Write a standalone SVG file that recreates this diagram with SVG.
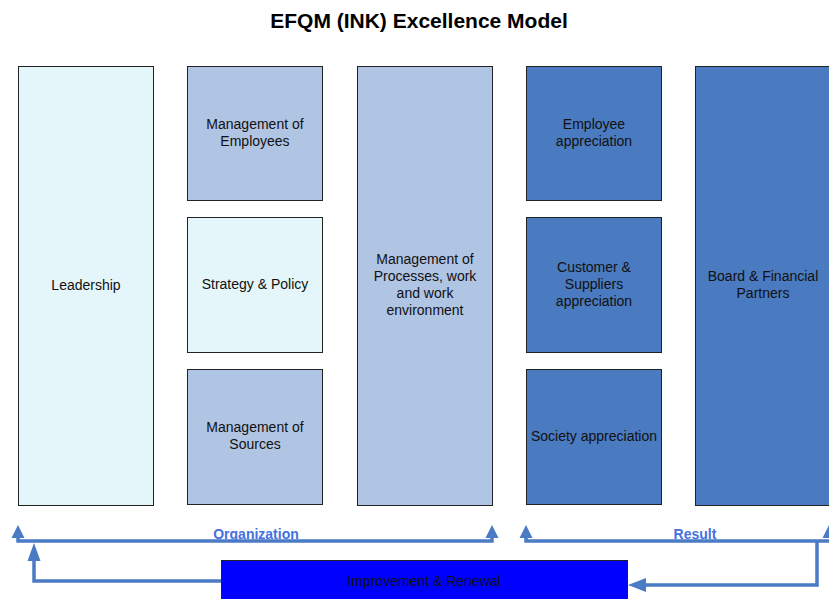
<svg xmlns="http://www.w3.org/2000/svg" width="829" height="599" viewBox="0 0 829 599">
  <defs>
    <style>
      .box { stroke: #222; stroke-width: 1; }
      .pale { fill: #E4F6F9; }
      .mid { fill: #B0C4E4; }
      .dark { fill: #4A7ABF; }
      .blue { fill: #0000FF; }
      .lbl { font-family: "Liberation Sans", Arial, sans-serif; font-size: 14px; fill: #111; text-anchor: middle; }
      .title { font-family: "Liberation Sans", Arial, sans-serif; font-size: 21px; font-weight: bold; fill: #000; text-anchor: middle; }
      .group { font-family: "Liberation Sans", Arial, sans-serif; font-size: 14px; font-weight: bold; fill: #4470E0; text-anchor: middle; }
      .conn { fill: none; stroke: #4A7BC4; stroke-width: 3.5; }
      .head { fill: #4A7BC4; }
    </style>
  </defs>

  <text class="title" x="419" y="28">EFQM (INK) Excellence Model</text>

  <g id="leadership">
    <rect class="box pale" x="18.5" y="66.5" width="135" height="439"/>
    <text class="lbl" x="86" y="290">Leadership</text>
  </g>
  <g id="employees">
    <rect class="box mid" x="187.5" y="66.5" width="135" height="134"/>
    <text class="lbl" x="255" y="129">Management of</text>
    <text class="lbl" x="255" y="146">Employees</text>
  </g>
  <g id="strategy">
    <rect class="box pale" x="187.5" y="217.5" width="135" height="135"/>
    <text class="lbl" x="255" y="289">Strategy &amp; Policy</text>
  </g>
  <g id="sources">
    <rect class="box mid" x="187.5" y="369.5" width="135" height="135"/>
    <text class="lbl" x="255" y="432">Management of</text>
    <text class="lbl" x="255" y="449">Sources</text>
  </g>
  <g id="processes">
    <rect class="box mid" x="357.5" y="66.5" width="135" height="439"/>
    <text class="lbl" x="425" y="264">Management of</text>
    <text class="lbl" x="425" y="281">Processes, work</text>
    <text class="lbl" x="425" y="298">and work</text>
    <text class="lbl" x="425" y="315">environment</text>
  </g>
  <g id="employee-appreciation">
    <rect class="box dark" x="526.5" y="66.5" width="135" height="134"/>
    <text class="lbl" x="594" y="129">Employee</text>
    <text class="lbl" x="594" y="146">appreciation</text>
  </g>
  <g id="customer-appreciation">
    <rect class="box dark" x="526.5" y="217.5" width="135" height="135"/>
    <text class="lbl" x="594" y="272">Customer &amp;</text>
    <text class="lbl" x="594" y="289">Suppliers</text>
    <text class="lbl" x="594" y="306">appreciation</text>
  </g>
  <g id="society-appreciation">
    <rect class="box dark" x="526.5" y="369.5" width="135" height="135"/>
    <text class="lbl" x="594" y="441">Society appreciation</text>
  </g>
  <g id="board">
    <rect class="box dark" x="695.5" y="66.5" width="135" height="439"/>
    <text class="lbl" x="763" y="281">Board &amp; Financial</text>
    <text class="lbl" x="763" y="298">Partners</text>
  </g>
  <g id="improvement">
    <rect class="box blue" x="221.5" y="560.5" width="406" height="40"/>
    <text class="lbl" x="424" y="586">Improvement &amp; Renewal</text>
  </g>

  <g id="connectors">
    <!-- Organization bracket -->
    <path class="conn" d="M18 534 V541 H492 V534"/>
    <polygon class="head" points="18,525 11.5,538 24.5,538"/>
    <polygon class="head" points="492,525 485.5,538 498.5,538"/>
    <text class="group" x="256" y="539">Organization</text>

    <!-- Result bracket -->
    <path class="conn" d="M526 534 V541 H829"/>
    <path class="conn" d="M817 541 V585 H640"/>
    <polygon class="head" points="526,525 519.5,538 532.5,538"/>
    <polygon class="head" points="829,525 822.5,538 835.5,538"/>
    <polygon class="head" points="628,585 646,578 646,592"/>
    <text class="group" x="695" y="539">Result</text>

    <!-- feedback loop from Improvement back to Leadership -->
    <path class="conn" d="M221 581 H34 V555"/>
    <polygon class="head" points="34,543 27.5,561 40.5,561"/>
  </g>
</svg>
